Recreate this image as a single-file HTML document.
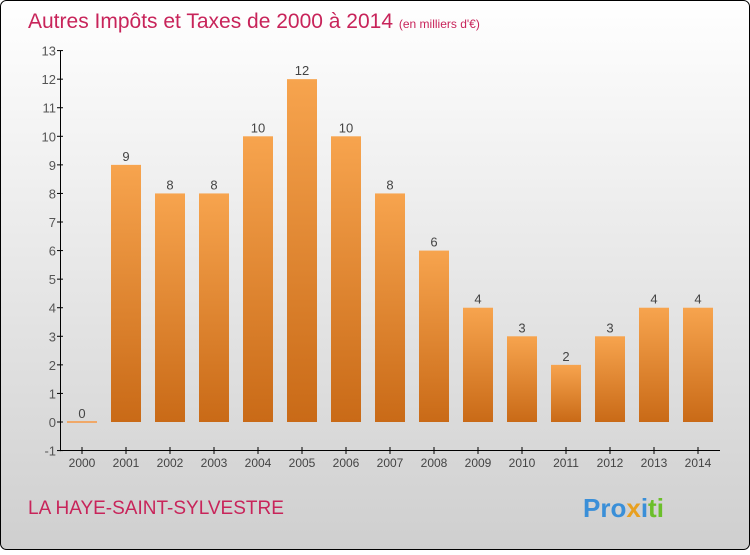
<!DOCTYPE html>
<html><head><meta charset="utf-8"><style>
body{margin:0;width:750px;height:550px;overflow:hidden;font-family:"Liberation Sans",sans-serif}
</style></head><body>
<svg id="c" width="750" height="550" xmlns="http://www.w3.org/2000/svg">
<defs>
<linearGradient id="bg" x1="0" y1="0" x2="0" y2="1"><stop offset="0" stop-color="#ffffff"/><stop offset="1" stop-color="#cfcfcf"/></linearGradient>
<linearGradient id="bar" x1="0" y1="0" x2="0" y2="1"><stop offset="0" stop-color="#f7a44e"/><stop offset="1" stop-color="#c96a17"/></linearGradient>
</defs>
<rect x="0.5" y="0.5" width="749" height="549" rx="6" fill="url(#bg)" stroke="#000"/>
<text x="28" y="28" font-size="21" fill="#c8245a">Autres Impôts et Taxes de 2000 à 2014 <tspan font-size="12">(en milliers d'€)</tspan></text>
<text x="28" y="514" font-size="19" fill="#c8245a">LA HAYE-SAINT-SYLVESTRE</text>
<text x="583" y="517" font-size="26" font-weight="bold"><tspan fill="#3a8fd8">Pro</tspan><tspan fill="#e8a020">x</tspan><tspan fill="#3a8fd8">i</tspan><tspan fill="#6bbf2a">ti</tspan></text>
<g id="plot"></g>
</svg>
<script>
const categories=["2000","2001","2002","2003","2004","2005","2006","2007","2008","2009","2010","2011","2012","2013","2014"];
const values=[0,9,8,8,10,12,10,8,6,4,3,2,3,4,4];
const yTicks=[-1,0,1,2,3,4,5,6,7,8,9,10,11,12,13];
const NS="http://www.w3.org/2000/svg";
const g=document.getElementById('plot');
const y=v=>422-(v)*28.57;
const x=i=>82+i*44;
function el(t,a){const e=document.createElementNS(NS,t);for(const k in a)e.setAttribute(k,a[k]);g.appendChild(e);return e;}
let ax=el('line',{x1:60.5,y1:y(13),x2:60.5,y2:y(-1)+0.5,stroke:'#000'});

let bx=el('line',{x1:60,y1:450.5,x2:720,y2:450.5,stroke:'#000'});

yTicks.forEach(v=>{
 let t=el('line',{x1:57,x2:63,y1:y(v),y2:y(v),stroke:'#000'});
 
 let l=el('text',{x:56,y:y(v)+5,'text-anchor':'end','font-size':13,fill:'#555'});l.textContent=v;
 
});
categories.forEach((c,i)=>{
 let t=el('line',{x1:x(i),x2:x(i),y1:447,y2:454,stroke:'#000'});
 
 let l=el('text',{x:x(i),y:467,'text-anchor':'middle','font-size':12,fill:'#444'});l.textContent=c;
 
 const v=values[i];
 let b=el('rect',{x:x(i)-15,y:v>0?y(v):y(0)-1,width:30,height:v>0?y(0)-y(v):2,fill:v>0?'url(#bar)':'#f0a868'});
 
 let vl=el('text',{x:x(i),y:y(v)-4,'text-anchor':'middle','font-size':13,fill:'#444'});vl.textContent=v;
 
});
</script>
</body></html>
